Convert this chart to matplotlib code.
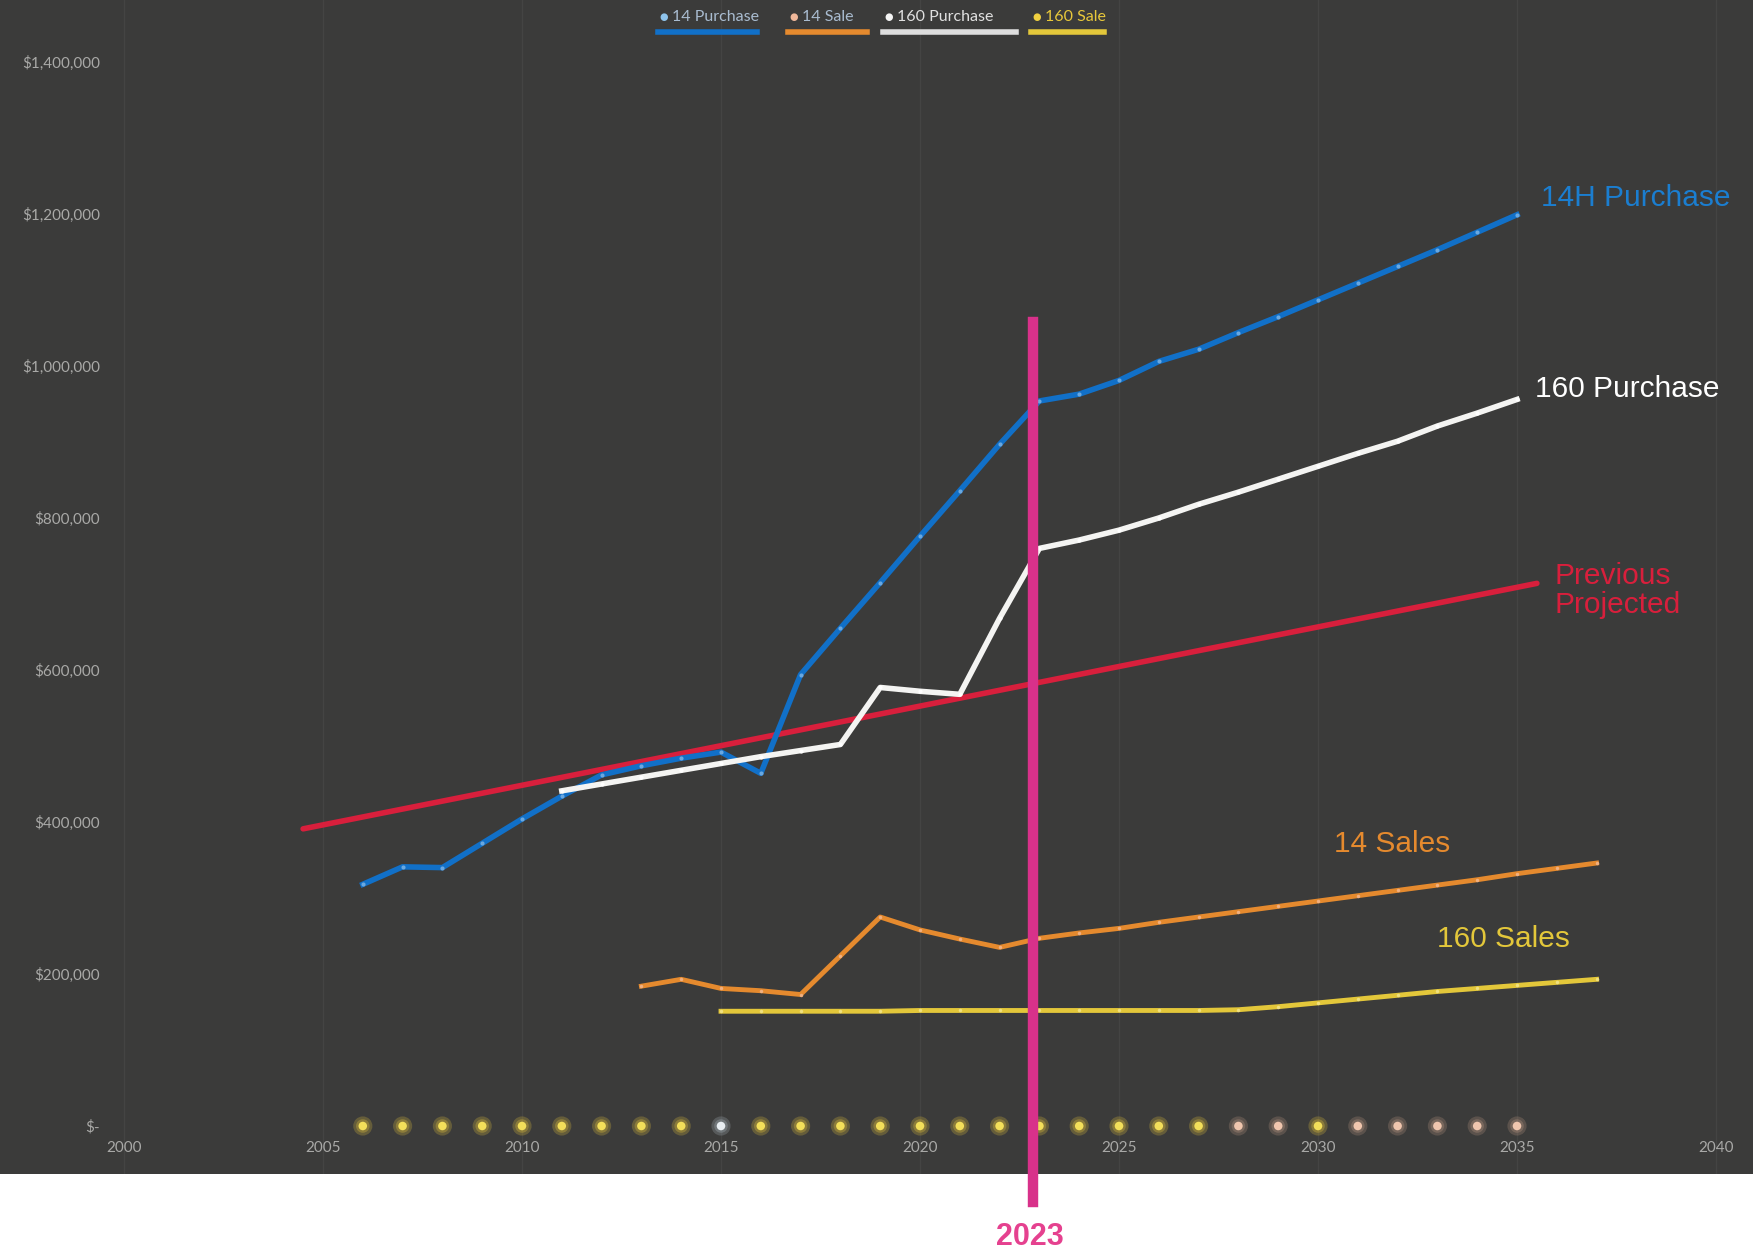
import matplotlib.pyplot as plt

# ---- data ----
purchase14_years = list(range(2006, 2036))
purchase14 = [318000, 341000, 340000, 372000, 404000, 434000, 462000, 474000, 484000, 492000,
              464000, 594000, 655000, 715000, 776000, 836000, 897000, 954000, 963000, 981000,
              1006000, 1022000, 1044000, 1065000, 1087000, 1109000, 1131000, 1153000, 1176000, 1199000]

purchase160_years = list(range(2011, 2036))
purchase160 = [441000, 450000, 459000, 468000, 477000, 486000, 494000, 502000, 577000, 572000,
               568000, 668000, 760000, 771000, 784000, 800000, 818000, 834000, 851000, 868000,
               885000, 901000, 921000, 938000, 956000]

prev_years = [2004.5, 2035.5]
prev_values = [391000, 714000]

sale14_years = list(range(2013, 2038))
sale14 = [184000, 193000, 181000, 178000, 173000, 224000, 275000, 258000, 246000, 235000,
          247000, 254000, 260000, 268000, 275000, 282000, 289000, 296000, 303000, 310000,
          317000, 324000, 332000, 339000, 346000]

sale160_years = list(range(2015, 2038))
sale160 = [151000, 151000, 151000, 151000, 151000, 152000, 152000, 152000, 152000, 152000,
           152000, 152000, 152000, 153000, 157000, 162000, 167000, 172000, 177000, 181000,
           185000, 189000, 193000]

dot_years = list(range(2006, 2036))
dot_kinds = ["y"] * 9 + ["w"] + ["y"] * 12 + ["p", "p", "y", "p", "p", "p", "p", "p"]

marker_year = 2022.85
marker_label = "2023"

# ---- style ----
BG = "#3b3b3a"
BLUE = "#1170c8"
WHITE = "#f4f4f2"
RED = "#d81f3c"
ORANGE = "#e58a2e"
YELLOW = "#e3c73a"
PINK = "#d8318a"
TICK = "#a9a9a7"
dot_core = {"y": "#f3df5a", "w": "#e8eef2", "p": "#f0c6ae"}
dot_glow = {"y": "#c9ad3a", "w": "#9aa4aa", "p": "#a88a78"}

W, H = 1753, 1258
fig = plt.figure(figsize=(W / 100, H / 100), dpi=100, facecolor="white")
dark_bottom = 1174
ax = fig.add_axes([0, 1 - dark_bottom / H, 1, dark_bottom / H])
ax.set_facecolor(BG)

px_per_year = 39.8
x0_px = 124
ax.set_xlim(2000 - x0_px / px_per_year, 2000 + (W - x0_px) / px_per_year)
zero_px = 1126
px_per_val = 152 / 200000
ax.set_ylim((zero_px - dark_bottom) / px_per_val, zero_px / px_per_val)

for s in ax.spines.values():
    s.set_visible(False)

ax.set_xticks(range(2000, 2041, 5))
ax.set_yticks(range(0, 1400001, 200000))
ax.set_yticklabels(["$-" if v == 0 else "${:,}".format(v) for v in range(0, 1400001, 200000)])
ax.tick_params(axis="y", length=0, pad=-72, labelsize=11, labelcolor=TICK)
ax.tick_params(axis="x", length=0, pad=-24, labelsize=11, labelcolor=TICK)
for lab in ax.get_xticklabels() + ax.get_yticklabels():
    lab.set_family("Lato")
ax.grid(axis="x", color="#444443", linewidth=1.0)

# series
ax.plot(prev_years, prev_values, color=RED, lw=4, solid_capstyle="round", zorder=3)
ax.plot(purchase14_years, purchase14, color=BLUE, lw=4, marker="o", ms=3,
        mfc="#6aa8e0", mec="none", zorder=4)
ax.plot(purchase160_years, purchase160, color=WHITE, lw=4, marker="o", ms=3,
        mfc="white", mec="none", zorder=4)
ax.plot(sale14_years, sale14, color=ORANGE, lw=3.5, marker="o", ms=2.5,
        mfc="#f0b080", mec="none", zorder=4)
ax.plot(sale160_years, sale160, color=YELLOW, lw=3.5, marker="o", ms=2.5,
        mfc="#f0e080", mec="none", zorder=4)

# dots along the bottom
zeros = [0] * len(dot_years)
ax.scatter(dot_years, zeros, s=190, c=[dot_glow[k] for k in dot_kinds], alpha=0.3,
           edgecolors="none", zorder=3)
ax.scatter(dot_years, zeros, s=95, c=[dot_glow[k] for k in dot_kinds], alpha=0.4,
           edgecolors="none", zorder=3)
ax.scatter(dot_years, zeros, s=38, c=[dot_core[k] for k in dot_kinds],
           edgecolors="none", zorder=4)

# 2023 marker line
ax.plot([marker_year, marker_year], [1058000, -100000], color=PINK, lw=7.5,
        clip_on=False, zorder=6)
ax.text(marker_year - 0.1, -126000, marker_label, color="#e5418f", fontsize=22,
        fontweight="bold", family="Liberation Sans", ha="center", va="top", clip_on=False)

# direct labels
lab_kw = dict(fontsize=21.5, family="Liberation Sans", va="center", ha="left")
ax.text(2035.6, 1221000, "14H Purchase", color="#1b7ed0", **lab_kw)
ax.text(2035.45, 970000, "160 Purchase", color="white", **lab_kw)
ax.text(2035.95, 705000, "Previous\nProjected", color=RED, linespacing=1.05, **lab_kw)
ax.text(2030.4, 371000, "14 Sales", color=ORANGE, **lab_kw)
ax.text(2033.0, 246000, "160 Sales", color=YELLOW, **lab_kw)

# legend across the top
legend_items = [
    ("14 Purchase", "#8fc4ec", "#a9bcd0", BLUE, 658, 757),
    ("14 Sale", "#f0b89a", "#a9bcd0", ORANGE, 788, 867),
    ("160 Purchase", "#f4f4f4", "#e0e0e0", "#dedede", 883, 1016),
    ("160 Sale", "#f0d040", "#e8c83a", YELLOW, 1031, 1104),
]
for name, dot_c, txt_c, bar_c, x_start, x_end in legend_items:
    fig.text((x_start + 1) / W, 1 - 17 / H, "\u25cf", color=dot_c, fontsize=7,
             ha="left", va="center", family="DejaVu Sans")
    fig.text((x_start + 14) / W, 1 - 17 / H, name, color=txt_c, fontsize=11.5,
             ha="left", va="center", family="Lato")
    fig.add_artist(plt.Line2D([x_start / W, x_end / W], [1 - 32 / H, 1 - 32 / H],
                              color=bar_c, lw=4, transform=fig.transFigure))

fig.savefig("out.png", dpi=100, facecolor="white")
